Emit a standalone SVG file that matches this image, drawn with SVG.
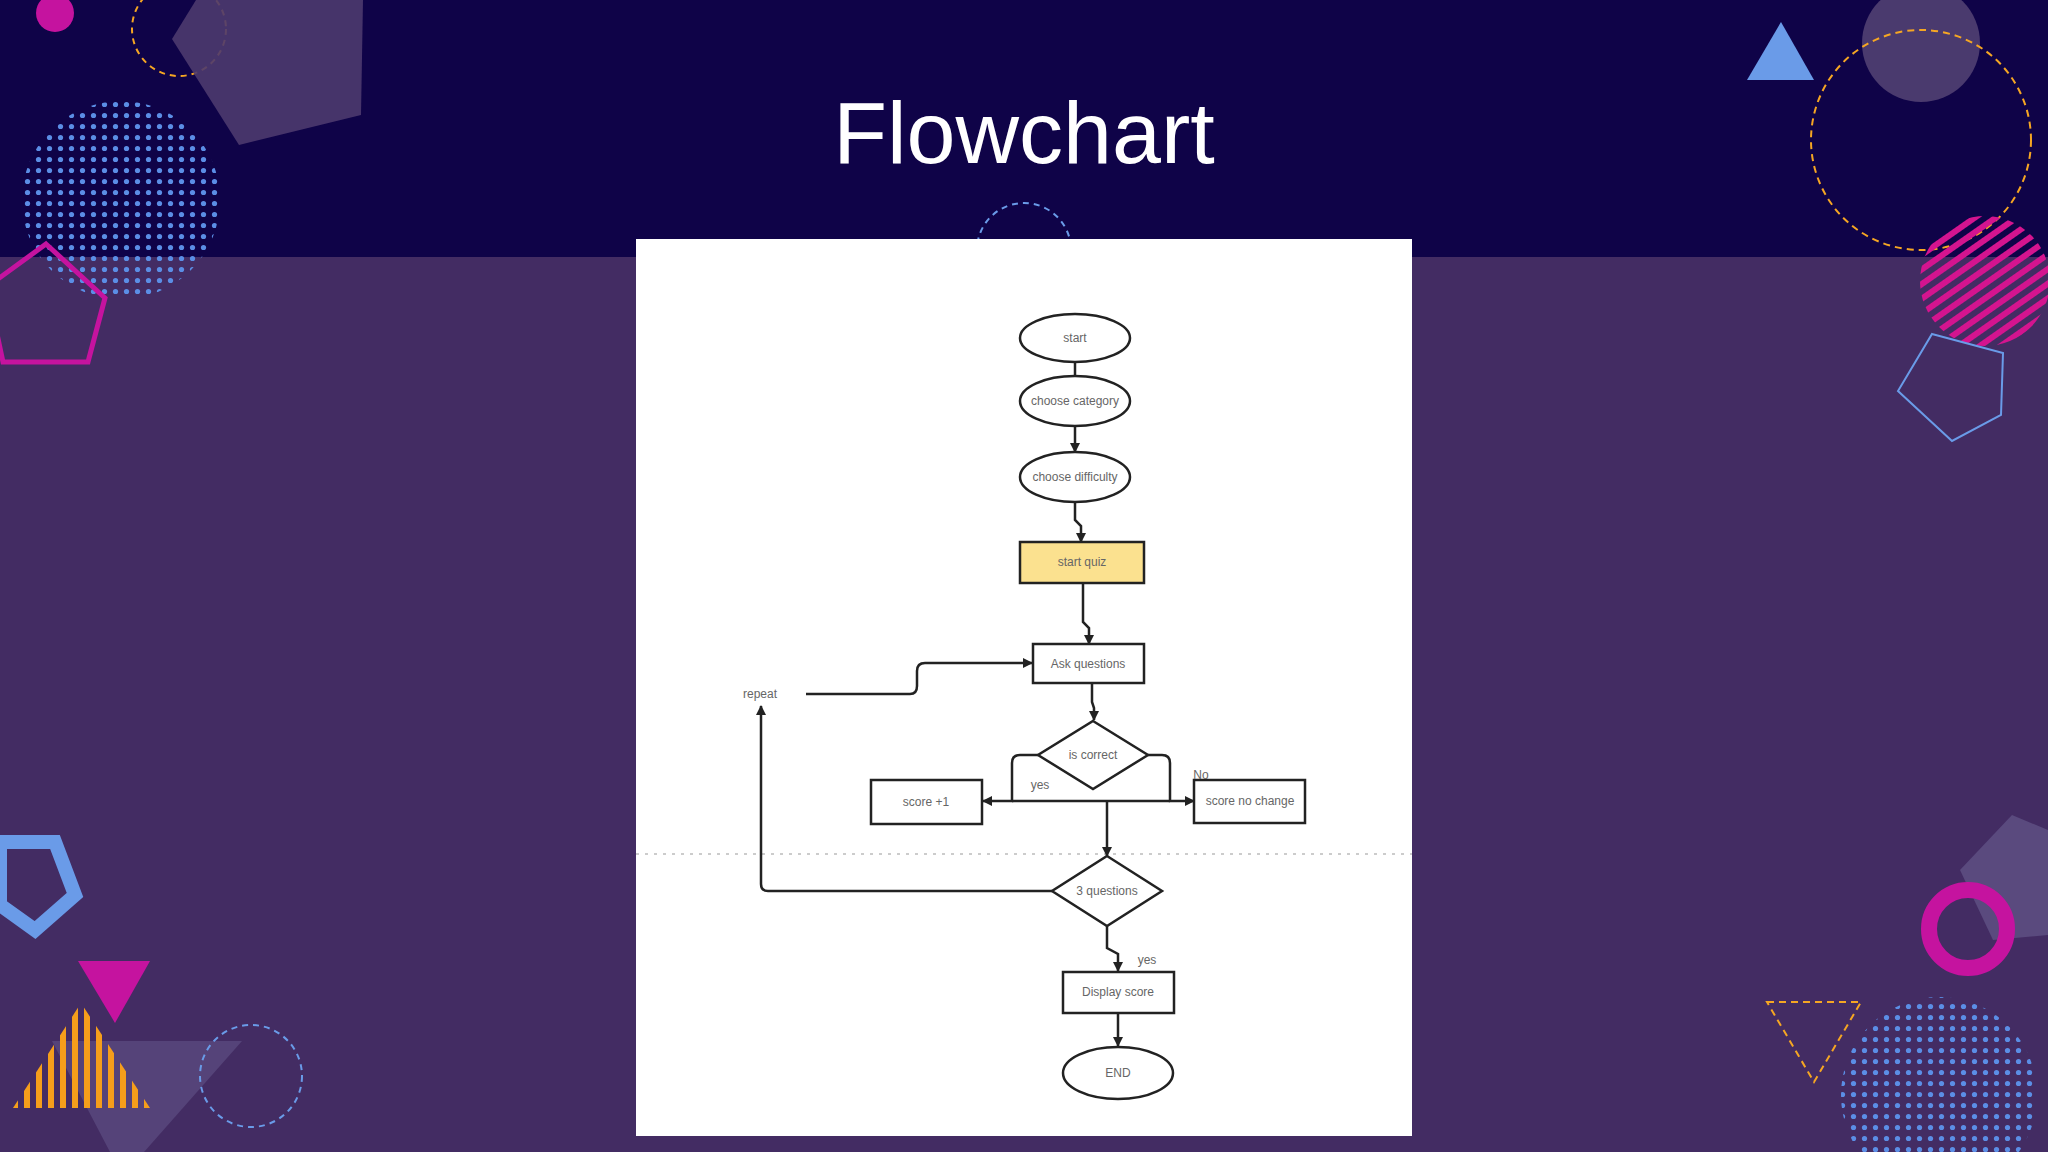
<svg xmlns="http://www.w3.org/2000/svg" width="2048" height="1152" viewBox="0 0 2048 1152">
<style>
.n{fill:#fff;stroke:#222;stroke-width:2.5}
.t{font-family:"Liberation Sans",Arial,sans-serif;font-size:12px;fill:#666;text-anchor:middle}
.c{fill:none;stroke:#222;stroke-width:2.5}
</style>
<defs>
<marker id="a" markerWidth="10" markerHeight="10" refX="9" refY="5" orient="auto" markerUnits="userSpaceOnUse"><path d="M0,0L10,5L0,10z" fill="#222"/></marker>
<pattern id="dots" width="11" height="11" patternUnits="userSpaceOnUse"><circle cx="5.5" cy="5.5" r="2.6" fill="#5b8ee6"/></pattern>
<pattern id="str" width="12" height="12" patternUnits="userSpaceOnUse" patternTransform="rotate(-35)"><rect width="12" height="6" fill="#d4148f"/></pattern>
<pattern id="vs" width="12" height="12" patternUnits="userSpaceOnUse"><rect width="6" height="12" fill="#f59e1b"/></pattern>
</defs>
<rect width="2048" height="1152" fill="#432c63"/>
<rect width="2048" height="257" fill="#0f0348"/>
<!-- decorations -->
<g id="deco">
<circle cx="55" cy="13" r="19" fill="#c5139f"/>
<circle cx="179" cy="29" r="47" fill="none" stroke="#f5a623" stroke-width="2" stroke-dasharray="6 5"/>
<polygon points="196,0 363,0 361,115 239,145 172,39" fill="#4d3a6e" opacity="0.9"/>
<circle cx="121" cy="200" r="99" fill="url(#dots)"/>
<polygon points="46,244 105,298 88,362 3,362 -13,287" fill="none" stroke="#c5139f" stroke-width="5"/>
<polygon points="1781,22 1814,80 1747,80" fill="#6a9be8"/>
<circle cx="1921" cy="43" r="59" fill="#4a3a6e"/>
<circle cx="1921" cy="140" r="110" fill="none" stroke="#f5a623" stroke-width="2" stroke-dasharray="7 5"/>
<circle cx="1985" cy="281" r="65" fill="url(#str)"/>
<polygon points="1932,334 2003,353 2001,415 1952,441 1898,391" fill="none" stroke="#6a9be8" stroke-width="2"/>
<polygon points="2012,815 2048,830 2048,935 1993,940 1960,870" fill="#5a4a7e"/>
<circle cx="1968" cy="929" r="39" fill="none" stroke="#c5139f" stroke-width="16"/>
<polygon points="1767,1002 1861,1002 1814,1082" fill="none" stroke="#f5a623" stroke-width="2" stroke-dasharray="7 5"/>
<circle cx="1939" cy="1095" r="98" fill="url(#dots)"/>
<polygon points="0,842 55,842 75,895 35,930 0,905" fill="none" stroke="#6a9be8" stroke-width="14"/>
<polygon points="52,1041 242,1041 144,1152 110,1152" fill="#5a4a7e" opacity="0.8"/>
<polygon points="78,961 150,961 115,1023" fill="#c5139f"/>
<polygon points="13,1108 81,1003 150,1108" fill="url(#vs)"/>
<circle cx="251" cy="1076" r="51" fill="none" stroke="#6a9be8" stroke-width="2" stroke-dasharray="6 5"/>
<circle cx="1024" cy="250" r="47" fill="none" stroke="#6a9be8" stroke-width="2" stroke-dasharray="6 5"/>
</g>
<text x="1024" y="163" font-family="Liberation Sans,Arial,sans-serif" font-size="88" fill="#fff" text-anchor="middle">Flowchart</text>
<rect x="636" y="239" width="776" height="897" fill="#fff"/>
<line x1="636" y1="854" x2="1412" y2="854" stroke="#ccc" stroke-width="2" stroke-dasharray="3 6"/>
<g id="connectors">
<line class="c" x1="1075" y1="362" x2="1075" y2="376"/>
<path d="M1069,386 L1075,374 L1081,386z" fill="#222"/>
<path class="c" d="M1075,426 L1075,452" marker-end="url(#a)"/>
<path class="c" d="M1075,502 L1075,520 L1081,526 L1081,542" marker-end="url(#a)"/>
<path class="c" d="M1083,583 L1083,622 L1089,628 L1089,644" marker-end="url(#a)"/>
<path class="c" d="M806,694 L910,694 Q917,694 917,686 L917,671 Q917,663 925,663 L1032,663" marker-end="url(#a)"/>
<path class="c" d="M1092,683 L1092,702 L1094,708 L1094,720" marker-end="url(#a)"/>
<path class="c" d="M1038,755 L1020,755 Q1012,755 1012,763 L1012,801 L983,801" marker-end="url(#a)"/>
<path class="c" d="M1148,755 L1162,755 Q1170,755 1170,763 L1170,801 L1194,801" marker-end="url(#a)"/>
<line class="c" x1="1012" y1="801" x2="1170" y2="801"/>
<path class="c" d="M1107,801 L1107,856" marker-end="url(#a)"/>
<path class="c" d="M1052,891 L768,891 Q761,891 761,884 L761,706" marker-end="url(#a)"/>
<path class="c" d="M1107,926 L1107,948 L1118,954 L1118,971" marker-end="url(#a)"/>
<path class="c" d="M1118,1013 L1118,1046" marker-end="url(#a)"/>
</g>
<g id="start"><ellipse class="n" cx="1075" cy="338" rx="55" ry="24"/><text class="t" x="1075" y="342">start</text></g>
<g id="category"><ellipse class="n" cx="1075" cy="401" rx="55" ry="25"/><text class="t" x="1075" y="405">choose category</text></g>
<g id="difficulty"><ellipse class="n" cx="1075" cy="477" rx="55" ry="25"/><text class="t" x="1075" y="481">choose difficulty</text></g>
<g id="startquiz"><rect x="1020" y="542" width="124" height="41" fill="#fbe18f" stroke="#222" stroke-width="2.5"/><text class="t" x="1082" y="566">start quiz</text></g>
<g id="ask"><rect class="n" x="1033" y="644" width="111" height="39"/><text class="t" x="1088" y="668">Ask questions</text></g>
<g id="repeat"><text class="t" x="760" y="698">repeat</text></g>
<g id="iscorrect"><polygon class="n" points="1093,721 1148,755 1093,789 1038,755"/><text class="t" x="1093" y="759">is correct</text></g>
<g id="score1"><rect class="n" x="871" y="780" width="111" height="44"/><text class="t" x="926" y="806">score +1</text></g>
<g id="nochange"><rect class="n" x="1194" y="780" width="111" height="43"/><text class="t" x="1250" y="805">score no change</text></g>
<text class="t" x="1040" y="789">yes</text>
<text class="t" x="1201" y="779">No</text>
<g id="three"><polygon class="n" points="1107,856 1162,891 1107,926 1052,891"/><text class="t" x="1107" y="895">3 questions</text></g>
<text class="t" x="1147" y="964">yes</text>
<g id="display"><rect class="n" x="1063" y="972" width="111" height="41"/><text class="t" x="1118" y="996">Display score</text></g>
<g id="end"><ellipse class="n" cx="1118" cy="1073" rx="55" ry="26"/><text class="t" x="1118" y="1077">END</text></g>
</svg>
